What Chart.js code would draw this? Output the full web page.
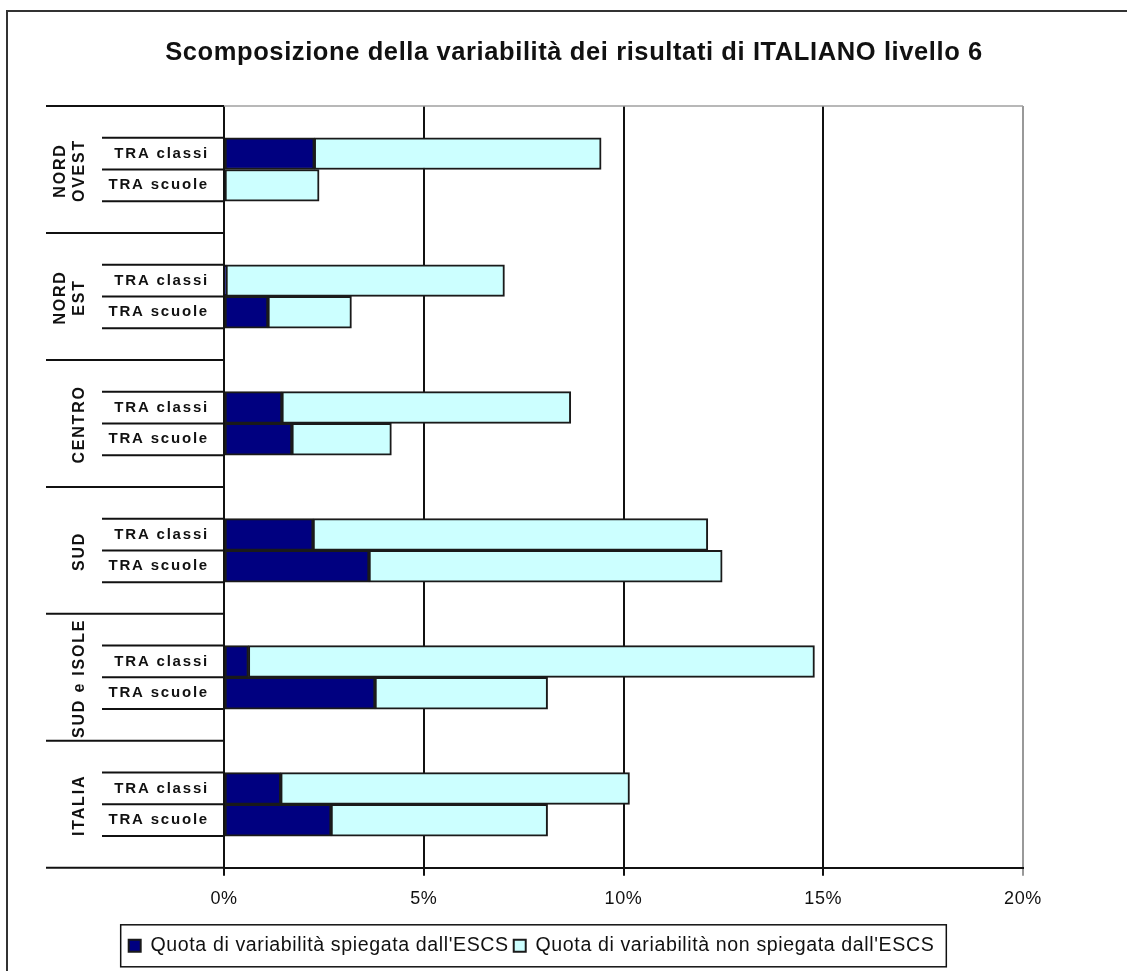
<!DOCTYPE html>
<html>
<head>
<meta charset="utf-8">
<script src="https://cdn.jsdelivr.net/npm/chart.js@4.4.1/dist/chart.umd.min.js"></script>
<style>
  html, body { margin: 0; padding: 0; background: #fff; }
  #wrap { width: 1127px; height: 971px; }
</style>
</head>
<body>
<div id="wrap"><canvas id="Bar"></canvas></div>
<script>
// dati (valori in %)
var regioni = [["NORD", "OVEST"], ["NORD", "EST"], "CENTRO", "SUD", "SUD e ISOLE", "ITALIA"];
var sottoVoci = ["TRA classi", "TRA scuole"];
var spiegataClassi = [2.26, 0.05, 1.45, 2.23, 0.61, 1.42];
var spiegataScuole = [0, 1.10, 1.70, 3.63, 3.78, 2.68];
var nonSpiegataClassi = [7.18, 6.97, 7.23, 9.88, 14.17, 8.73];
var nonSpiegataScuole = [2.38, 2.09, 2.49, 8.84, 4.32, 5.42];
var legendaTesti = ["Quota di variabilità spiegata dall'ESCS", "Quota di variabilità non spiegata dall'ESCS"];
var titolo = "Scomposizione della variabilità dei risultati di ITALIANO livello 6";

const FONT = "'Liberation Sans', Arial, sans-serif";

// ogni regione occupa 4 posizioni: vuota, classi, scuole, vuota
var etichette = [];
for (i = 0; i < regioni.length; i++) {
  etichette.push("", sottoVoci[0], sottoVoci[1], "");
}

function slotData(classi, scuole) {
  var out = [];
  for (i = 0; i < classi.length; i++) {
    out.push(null, classi[i], scuole[i], null);
  }
  return out;
}

// spaziatura lettere su tutto il testo della libreria
const spacingPlugin = {
  id: "spacing",
  beforeLayout(chart) { chart.ctx.letterSpacing = "0.6px"; },
  beforeDraw(chart) { chart.ctx.letterSpacing = "0.6px"; }
};

function linea(ctx, x1, y1, x2, y2) {
  ctx.beginPath();
  ctx.moveTo(x1, y1);
  ctx.lineTo(x2, y2);
  ctx.stroke();
}

const corniceplugin = {
  id: "cornice",
  afterLayout(chart) {
    var t = chart.titleBlock;
    t.left = 21;
    t.right = 1127;
    var lg = chart.legend;
    var h = lg.bottom - lg.top;
    lg.left = 0;
    lg.right = 1063;
    lg.top = 931;
    lg.bottom = 931 + h;
  },
  afterDraw(chart) {
    var ctx = chart.ctx;
    var y = chart.scales.y;
    var area = chart.chartArea;
    ctx.save();

    // cornice esterna
    ctx.strokeStyle = "#333";
    ctx.lineWidth = 2;
    ctx.beginPath();
    ctx.moveTo(7, 971);
    ctx.lineTo(7, 11);
    ctx.lineTo(1127, 11);
    ctx.stroke();

    // bordo superiore area del grafico
    ctx.strokeStyle = "#a0a0a0";
    ctx.lineWidth = 1.5;
    linea(ctx, area.left, area.top, area.right, area.top);

    ctx.strokeStyle = "#111";
    ctx.fillStyle = "#111";
    ctx.lineWidth = 2;
    for (r = 0; r <= regioni.length; r++) {
      var yy = y.getPixelForValue(r * 4 - 0.5);
      linea(ctx, 46, yy, area.left, yy);
    }

    for (r = 0; r < regioni.length; r++) {
      for (k = 1; k <= 3; k++) {
        var ys = y.getPixelForValue(r * 4 + k - 0.5);
        linea(ctx, 102, ys, area.left, ys);
      }
      // etichette TRA classi / TRA scuole
      ctx.font = "bold 15px " + FONT;
      ctx.letterSpacing = "1.8px";
      ctx.textAlign = "right";
      ctx.textBaseline = "middle";
      for (k = 1; k <= 2; k++) {
        ctx.fillText(etichette[r * 4 + k], 209, y.getPixelForValue(r * 4 + k));
      }

      // nome regione, ruotato
      var yc = y.getPixelForValue(r * 4 + 1.5);
      var nome = regioni[r];
      ctx.font = "bold 16px " + FONT;
      ctx.letterSpacing = "1.8px";
      ctx.textAlign = "center";
      var righe = Array.isArray(nome) ? nome : [nome];
      var xs = righe.length == 2 ? [61, 80] : [80];
      for (j = 0; j < righe.length; j++) {
        ctx.save();
        ctx.translate(xs[j], yc + 1);
        ctx.rotate(-Math.PI / 2);
        ctx.fillText(righe[j], 0, 0);
        ctx.restore();
      }
    }

    // riquadro legenda
    var boxes = chart.legend.legendHitBoxes;
    if (boxes && boxes.length) {
      var l = boxes[0].left, rgt = boxes[boxes.length - 1].left + boxes[boxes.length - 1].width;
      var cy = boxes[0].top + boxes[0].height / 2;
      ctx.letterSpacing = "0px";
      ctx.strokeStyle = "#111";
      ctx.lineWidth = 1.5;
      ctx.strokeRect(l - 8, cy - 21, rgt - l + 20, 42);
    }
    ctx.restore();
  }
};

var ctx = document.getElementById("Bar");
var Bar = new Chart(ctx, {
  type: "bar",
  data: {
    labels: etichette,
    datasets: [
      {
        label: legendaTesti[0],
        data: slotData(spiegataClassi, spiegataScuole),
        backgroundColor: "#000080",
        borderColor: "#1a1a1a",
        borderWidth: 2,
        borderSkipped: false,
        barPercentage: 1,
        categoryPercentage: 1,
      },
      {
        label: legendaTesti[1],
        data: slotData(nonSpiegataClassi, nonSpiegataScuole),
        backgroundColor: "#ccffff",
        borderColor: "#1a1a1a",
        borderWidth: 2,
        borderSkipped: false,
        barPercentage: 1,
        categoryPercentage: 1,
      },
    ],
  },
  options: {
    indexAxis: "y",
    responsive: true,
    maintainAspectRatio: false,
    animation: false,
    layout: {
      padding: { top: 26, right: 104, bottom: 15, left: 0 },
    },
    scales: {
      x: {
        stacked: true,
        min: 0,
        max: 20,
        ticks: {
          stepSize: 5,
          padding: 12,
          color: "#111",
          font: { family: FONT, size: 18 },
          callback: (v) => v + "%",
        },
        grid: {
          color: (c) => (c.tick && c.tick.value == 20 ? "#999" : "#111"),
          tickColor: (c) => (c.tick && c.tick.value == 20 ? "#999" : "#111"),
          lineWidth: 2,
          tickLength: 8,
        },
        border: { color: "#111", width: 2 },
      },
      y: {
        stacked: true,
        ticks: { display: false },
        grid: { display: false },
        border: { display: false },
        afterFit: (scale) => { scale.width = 224; },
      },
    },
    plugins: {
      title: {
        display: true,
        text: titolo,
        color: "#111",
        font: { family: FONT, size: 25.5, weight: "bold" },
        padding: { top: 12, bottom: 37.4 },
      },
      legend: {
        position: "bottom",
        labels: {
          color: "#111",
          font: { family: FONT, size: 19.6 },
          boxWidth: 12,
          boxHeight: 12,
          padding: 5,
        },
      },
      tooltip: { enabled: false },
    },
  },
  plugins: [spacingPlugin, corniceplugin],
});
</script>
</body>
</html>
